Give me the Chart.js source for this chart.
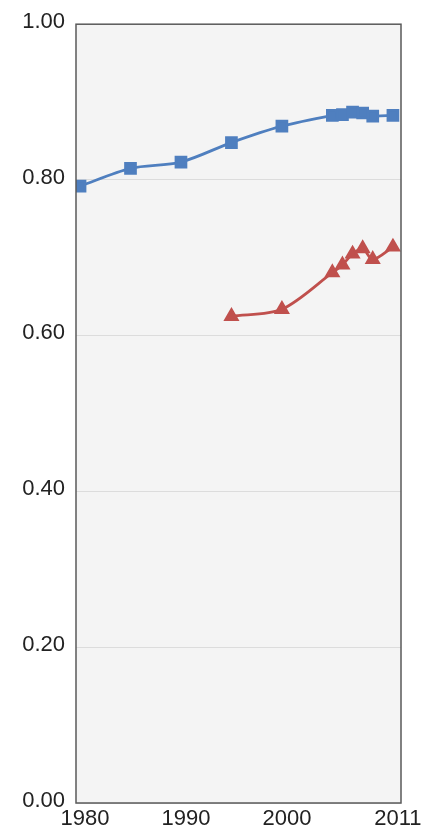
<!DOCTYPE html>
<html>
<head>
<meta charset="utf-8">
<script src="https://cdn.jsdelivr.net/npm/chart.js@4.4.0/dist/chart.umd.min.js"></script>
<style>
  html, body { margin: 0; padding: 0; background: #ffffff; }
  #wrap { width: 423px; height: 833px; position: relative; }
</style>
</head>
<body>
<div id="wrap"><canvas id="chart"></canvas></div>
<script>
// values
const blueYears = [1980, 1985, 1990, 1995, 2000, 2005, 2006, 2007, 2008, 2009, 2011];
const blueValues = [0.792, 0.815, 0.823, 0.848, 0.869, 0.883, 0.884, 0.887, 0.886, 0.882, 0.883];
const redYears = [1995, 2000, 2005, 2006, 2007, 2008, 2009, 2011];
const redValues = [0.625, 0.634, 0.681, 0.691, 0.705, 0.712, 0.698, 0.714];
const xTicks = [1980, 1990, 2000, 2011];
const yTicks = [0, 0.2, 0.4, 0.6, 0.8, 1.0];

const toPoints = (xs, ys) => xs.map((x, i) => ({x: x, y: ys[i]}));

// plot background and frame
const frame = {
    id: "frame",
    beforeDraw(chart) {
        const a = chart.chartArea;
        const ctx = chart.ctx;
        ctx.save();
        ctx.fillStyle = "#f4f4f4";
        ctx.fillRect(a.left, a.top, a.right - a.left, a.bottom - a.top);
        ctx.restore();
    },
    afterDatasetsDraw(chart) {
        const a = chart.chartArea;
        const ctx = chart.ctx;
        ctx.save();
        ctx.strokeStyle = "#5a5a5a";
        ctx.lineWidth = 1.5;
        ctx.strokeRect(a.left, a.top, a.right - a.left, a.bottom - a.top);
        ctx.restore();
    }
};

const labelFont = "'Liberation Sans', Arial, sans-serif";

new Chart(document.getElementById("chart"), {
    type: "line",
    data: {
        datasets: [{
            data: toPoints(blueYears, blueValues),
            borderColor: "#4f7fbf",
            backgroundColor: "#4f7fbf",
            borderWidth: 2.8,
            pointStyle: "rect",
            pointRadius: 7,
            tension: 0.3
        }, {
            data: toPoints(redYears, redValues),
            borderColor: "#c0504d",
            backgroundColor: "#c0504d",
            borderWidth: 2.8,
            pointStyle: "triangle",
            pointRadius: 6.5,
            tension: 0.3
        }]
    },
    plugins: [frame],
    options: {
        responsive: true,
        maintainAspectRatio: false,
        animation: false,
        layout: {padding: {top: 23, right: 22, left: 0, bottom: 0}},
        plugins: {
            legend: {display: false},
            tooltip: {enabled: false}
        },
        scales: {
            x: {
                type: "linear",
                min: 1979.6,
                max: 2011.8,
                afterBuildTicks: (axis) => {
                    axis.ticks = xTicks.map(v => ({value: v}));
                },
                afterFit: (axis) => {
                    axis.height = 30;
                },
                grid: {display: false, drawTicks: false},
                border: {display: false},
                ticks: {
                    autoSkip: false,
                    maxRotation: 0,
                    padding: 3,
                    labelOffset: 5,
                    color: "#222222",
                    font: {family: labelFont, size: 22},
                    callback: (v) => String(v)
                }
            },
            y: {
                min: 0,
                max: 1,
                afterBuildTicks: (axis) => {
                    axis.ticks = yTicks.map(v => ({value: v}));
                },
                afterFit: (axis) => {
                    axis.width = 76;
                },
                grid: {color: "#dcdcdc", lineWidth: 1, drawTicks: false},
                border: {display: false},
                ticks: {
                    padding: 11,
                    labelOffset: -2.5,
                    color: "#222222",
                    font: {family: labelFont, size: 22},
                    callback: (v) => Number(v).toFixed(2)
                }
            }
        }
    }
});
</script>
</body>
</html>
